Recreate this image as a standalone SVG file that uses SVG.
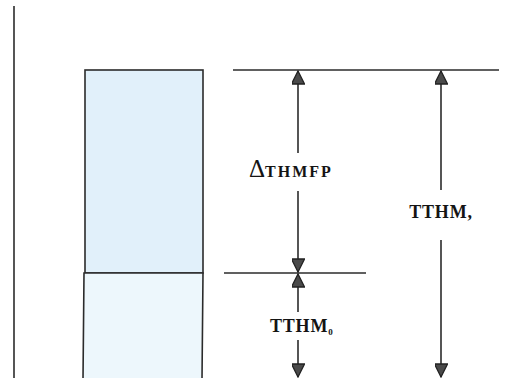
<svg xmlns="http://www.w3.org/2000/svg" width="529" height="378" viewBox="0 0 529 378">
<defs>
<style>
.ln{stroke:#2b2b2b;stroke-width:1.6;fill:none}
.lbl{font-family:"Liberation Serif","Times New Roman",serif;font-weight:bold;fill:#141414}
</style>
<marker id="ah" viewBox="0 0 10 10" refX="10" refY="5" markerWidth="15" markerHeight="13" markerUnits="userSpaceOnUse" orient="auto">
<path d="M0,0 L10,5 L0,10 z" fill="#4a4a4a" stroke="#222" stroke-width="1"/>
</marker>
</defs>
<rect width="529" height="378" fill="#ffffff"/>
<g id="axis"><line class="ln" x1="14" y1="6" x2="14" y2="378"/></g>
<g id="column-top"><rect x="85" y="70" width="118" height="203" fill="#e1f0fa" stroke="#2b2b2b" stroke-width="1.6"/></g>
<g id="column-bottom"><path d="M84,273 L203,273 L202,380 L83,380 z" fill="#edf7fc" stroke="#2b2b2b" stroke-width="1.6"/></g>
<g id="connectors">
<line class="ln" x1="233" y1="70" x2="499" y2="70"/>
<line class="ln" x1="224" y1="273" x2="366" y2="273"/>
<line class="ln" x1="298" y1="153" x2="298" y2="71" marker-end="url(#ah)"/>
<line class="ln" x1="298" y1="191" x2="298" y2="272" marker-end="url(#ah)"/>
<line class="ln" x1="298" y1="312" x2="298" y2="274" marker-end="url(#ah)"/>
<line class="ln" x1="298" y1="340" x2="298" y2="377" marker-end="url(#ah)"/>
<line class="ln" x1="441" y1="190" x2="441" y2="71" marker-end="url(#ah)"/>
<line class="ln" x1="441" y1="240" x2="441" y2="377" marker-end="url(#ah)"/>
</g>
<g id="label-dthmfp"><text class="lbl" x="249" y="177"><tspan font-size="25" font-weight="normal">Δ</tspan><tspan font-size="16" letter-spacing="2">THMFP</tspan></text></g>
<g id="label-tthmt"><text class="lbl" x="441" y="218" font-size="18" letter-spacing="0.8" text-anchor="middle">TTHM,</text></g>
<g id="label-tthm0"><text class="lbl" x="270" y="332" font-size="18" letter-spacing="0.8">TTHM<tspan font-size="9" dy="3">0</tspan></text></g>
</svg>
